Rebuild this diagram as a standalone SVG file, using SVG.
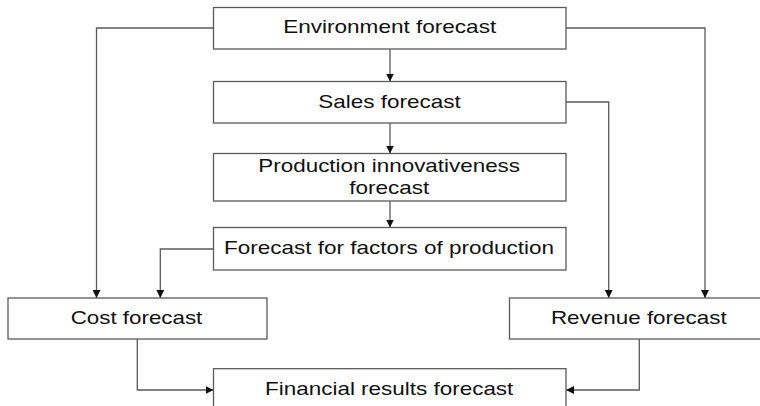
<svg xmlns="http://www.w3.org/2000/svg" width="760" height="406" viewBox="0 0 760 406">
<defs>
<style>
.box{fill:#fff;stroke:#5a5a5a;stroke-width:1.3}
.ln{fill:none;stroke:#5a5a5a;stroke-width:1.3}
.t{font-family:"Liberation Sans",Arial,sans-serif;font-size:18.5px;fill:#111;text-anchor:middle}
</style>
<marker id="ah" viewBox="0 0 10 10" refX="10" refY="5" markerWidth="8" markerHeight="8" markerUnits="userSpaceOnUse" orient="auto">
<path d="M0,0 L10,5 L0,10 z" fill="#111"/>
</marker>
</defs>
<rect width="760" height="406" fill="#fff"/>
<g id="connectors">
<path class="ln" d="M213.5,28 H96.5 V298" marker-end="url(#ah)"/>
<path class="ln" d="M566,28 H705 V298" marker-end="url(#ah)"/>
<path class="ln" d="M390,49 V81.5" marker-end="url(#ah)"/>
<path class="ln" d="M390,123 V153.5" marker-end="url(#ah)"/>
<path class="ln" d="M566,102 H608.7 V298" marker-end="url(#ah)"/>
<path class="ln" d="M390,201 V227.5" marker-end="url(#ah)"/>
<path class="ln" d="M213.5,249 H160.3 V298" marker-end="url(#ah)"/>
<path class="ln" d="M137.3,339 V390 H213.5" marker-end="url(#ah)"/>
<path class="ln" d="M639.3,339 V390 H566" marker-end="url(#ah)"/>
</g>
<g id="environment">
<rect class="box" x="213.5" y="7.5" width="352.5" height="41.5"/>
<text class="t" x="389.7" y="33.3" textLength="213" lengthAdjust="spacingAndGlyphs">Environment forecast</text>
</g>
<g id="sales">
<rect class="box" x="213.5" y="81.5" width="352.5" height="41.5"/>
<text class="t" x="389.5" y="108" textLength="142.5" lengthAdjust="spacingAndGlyphs">Sales forecast</text>
</g>
<g id="production">
<rect class="box" x="213.5" y="153.5" width="352.5" height="47.5"/>
<text class="t" x="389.2" y="172" textLength="261.7" lengthAdjust="spacingAndGlyphs">Production innovativeness</text>
<text class="t" x="389.3" y="193.7" textLength="80" lengthAdjust="spacingAndGlyphs">forecast</text>
</g>
<g id="factors">
<rect class="box" x="213.5" y="227.5" width="352.5" height="42.5"/>
<text class="t" x="389" y="254.3" textLength="330" lengthAdjust="spacingAndGlyphs">Forecast for factors of production</text>
</g>
<g id="cost">
<rect class="box" x="8" y="298" width="259" height="41"/>
<text class="t" x="136.5" y="324" textLength="131.7" lengthAdjust="spacingAndGlyphs">Cost forecast</text>
</g>
<g id="revenue">
<rect class="box" x="509.5" y="298" width="260" height="41"/>
<text class="t" x="638.8" y="324" textLength="175.7" lengthAdjust="spacingAndGlyphs">Revenue forecast</text>
</g>
<g id="financial">
<rect class="box" x="213.5" y="368.7" width="352.5" height="50"/>
<text class="t" x="389.2" y="395" textLength="248.3" lengthAdjust="spacingAndGlyphs">Financial results forecast</text>
</g>
</svg>
